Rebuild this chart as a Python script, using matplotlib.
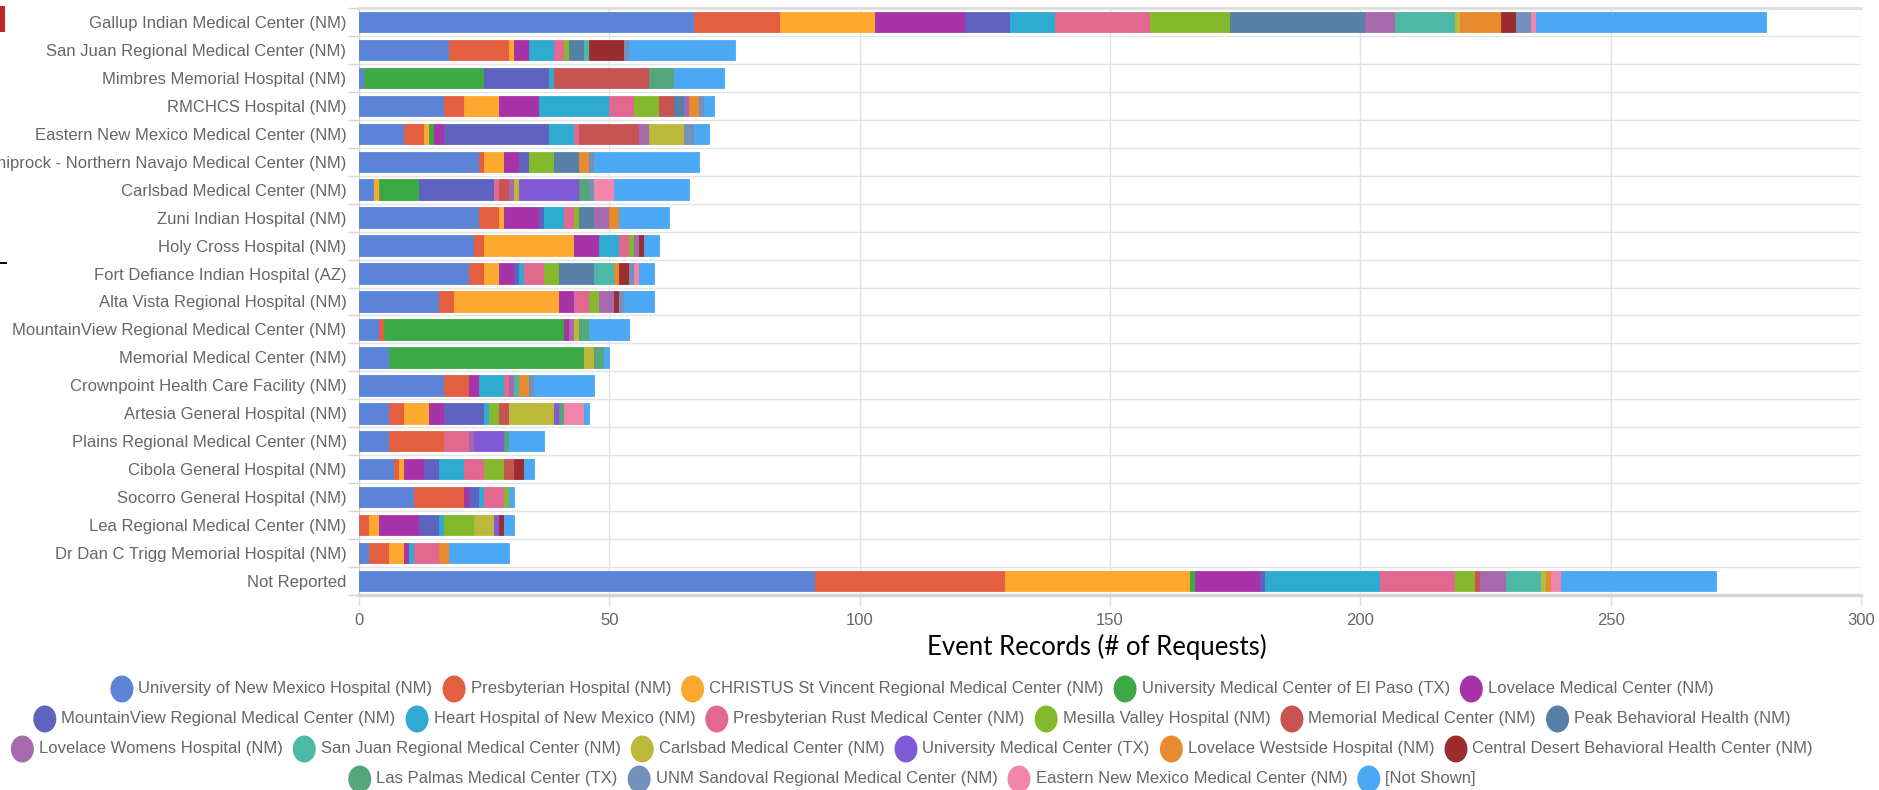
import numpy as np
import matplotlib
matplotlib.use("Agg")
import matplotlib.pyplot as plt
from matplotlib.patches import Ellipse, Rectangle

# categories, top to bottom
hospitals = [
    "Gallup Indian Medical Center (NM)", "San Juan Regional Medical Center (NM)",
    "Mimbres Memorial Hospital (NM)", "RMCHCS Hospital (NM)",
    "Eastern New Mexico Medical Center (NM)", "Shiprock - Northern Navajo Medical Center (NM)",
    "Carlsbad Medical Center (NM)", "Zuni Indian Hospital (NM)", "Holy Cross Hospital (NM)",
    "Fort Defiance Indian Hospital (AZ)", "Alta Vista Regional Hospital (NM)",
    "MountainView Regional Medical Center (NM)", "Memorial Medical Center (NM)",
    "Crownpoint Health Care Facility (NM)", "Artesia General Hospital (NM)",
    "Plains Regional Medical Center (NM)", "Cibola General Hospital (NM)",
    "Socorro General Hospital (NM)", "Lea Regional Medical Center (NM)",
    "Dr Dan C Trigg Memorial Hospital (NM)", "Not Reported",
]

# one list per destination (series), values follow the hospitals order
unm = [67, 18, 1, 17, 9, 24, 3, 24, 23, 22, 16, 4, 6, 17, 6, 6, 7, 11, 0, 2, 91]
presbyterian = [17, 12, 0, 4, 4, 1, 0, 4, 2, 3, 3, 1, 0, 5, 3, 11, 1, 10, 2, 4, 38]
christus = [19, 1, 0, 7, 1, 4, 1, 1, 18, 3, 21, 0, 0, 0, 5, 0, 1, 0, 2, 3, 37]
umc_el_paso = [0, 0, 24, 0, 1, 0, 8, 0, 0, 0, 0, 36, 39, 0, 0, 0, 0, 0, 0, 0, 1]
lovelace = [18, 3, 0, 8, 2, 3, 0, 7, 5, 3, 3, 1, 0, 2, 3, 0, 4, 1, 8, 1, 13]
mountainview = [9, 0, 13, 0, 21, 2, 15, 1, 0, 1, 0, 0, 0, 0, 8, 0, 3, 2, 4, 0, 1]
heart = [9, 5, 1, 14, 5, 0, 0, 4, 4, 1, 0, 0, 0, 5, 1, 0, 5, 1, 1, 1, 23]
pres_rust = [19, 2, 0, 5, 1, 0, 1, 2, 2, 4, 3, 0, 0, 1, 0, 5, 4, 4, 0, 5, 15]
mesilla = [16, 1, 0, 5, 0, 5, 0, 1, 1, 3, 2, 0, 0, 0, 2, 0, 4, 1, 6, 0, 4]
memorial = [0, 0, 19, 3, 12, 0, 2, 0, 0, 0, 0, 0, 0, 0, 2, 0, 2, 0, 0, 0, 1]
peak = [27, 3, 0, 2, 0, 5, 0, 3, 0, 7, 0, 0, 0, 0, 0, 0, 0, 0, 0, 0, 0]
lovelace_womens = [6, 0, 0, 1, 2, 0, 1, 3, 1, 0, 3, 1, 0, 1, 0, 1, 0, 0, 0, 0, 5]
san_juan = [12, 1, 0, 0, 0, 0, 0, 0, 0, 4, 0, 0, 0, 1, 0, 0, 0, 0, 0, 0, 7]
carlsbad = [1, 0, 0, 0, 7, 0, 1, 0, 0, 0, 0, 1, 2, 0, 9, 0, 0, 0, 4, 0, 1]
umc_tx = [0, 0, 0, 0, 0, 0, 12, 0, 0, 0, 0, 0, 0, 0, 1, 6, 0, 0, 1, 0, 0]
westside = [8, 0, 0, 2, 0, 2, 0, 2, 0, 1, 0, 0, 0, 2, 0, 0, 0, 0, 0, 2, 1]
central_desert = [3, 7, 0, 0, 0, 0, 0, 0, 1, 2, 1, 0, 0, 0, 0, 0, 2, 0, 1, 0, 0]
las_palmas = [0, 0, 5, 0, 0, 0, 2, 0, 0, 0, 0, 2, 2, 0, 1, 1, 0, 0, 0, 0, 0]
sandoval = [3, 1, 0, 1, 2, 1, 1, 0, 0, 1, 1, 0, 0, 1, 0, 0, 0, 0, 0, 0, 0]
eastern_nm = [1, 0, 0, 0, 0, 0, 4, 0, 0, 1, 0, 0, 0, 0, 4, 0, 0, 0, 0, 0, 2]
not_shown = [46, 21, 10, 2, 3, 21, 15, 10, 3, 3, 6, 8, 1, 12, 1, 7, 2, 1, 2, 12, 31]

series_names = [
    "University of New Mexico Hospital (NM)", "Presbyterian Hospital (NM)",
    "CHRISTUS St Vincent Regional Medical Center (NM)", "University Medical Center of El Paso (TX)",
    "Lovelace Medical Center (NM)", "MountainView Regional Medical Center (NM)",
    "Heart Hospital of New Mexico (NM)", "Presbyterian Rust Medical Center (NM)",
    "Mesilla Valley Hospital (NM)", "Memorial Medical Center (NM)", "Peak Behavioral Health (NM)",
    "Lovelace Womens Hospital (NM)", "San Juan Regional Medical Center (NM)",
    "Carlsbad Medical Center (NM)", "University Medical Center (TX)",
    "Lovelace Westside Hospital (NM)", "Central Desert Behavioral Health Center (NM)",
    "Las Palmas Medical Center (TX)", "UNM Sandoval Regional Medical Center (NM)",
    "Eastern New Mexico Medical Center (NM)", "[Not Shown]",
]
series_values = [unm, presbyterian, christus, umc_el_paso, lovelace, mountainview, heart,
                 pres_rust, mesilla, memorial, peak, lovelace_womens, san_juan, carlsbad,
                 umc_tx, westside, central_desert, las_palmas, sandoval, eastern_nm, not_shown]
colors = ["#5b84d6", "#e35f3f", "#fda92f", "#3ca846", "#a833a8", "#5e63bf", "#2fabd2",
          "#e2688f", "#85b92d", "#c85353", "#5680a8", "#a868ad", "#4bb9a5", "#bcb93a",
          "#8159d6", "#e88b2e", "#9b2d30", "#54a67b", "#7391bb", "#f185ab", "#4aa8f4"]

legend_rows = [[0, 1, 2, 3, 4], [5, 6, 7, 8, 9, 10], [11, 12, 13, 14, 15, 16], [17, 18, 19, 20]]

W, H = 1879, 790
plt.rcParams['font.family'] = ['Liberation Sans', 'DejaVu Sans']
fig = plt.figure(figsize=(W / 100, H / 100), dpi=100)
ax = fig.add_axes([359 / W, 1 - 595 / H, (1861 - 359) / W, (595 - 8) / H])

y = np.arange(len(hospitals))
left = np.zeros(len(hospitals))
for vals, c in zip(series_values, colors):
    vals = np.array(vals, dtype=float)
    ax.barh(y, vals, left=left, height=0.73, color=c, edgecolor=c, linewidth=0.6, zorder=3)
    left += vals

ax.set_ylim(len(hospitals) - 0.5, -0.5)
ax.set_xlim(0, 300)
ax.set_xticks(np.arange(0, 301, 50))
ax.set_yticks(y)
ax.set_yticklabels(hospitals)
ax.set_yticks(np.arange(-0.5, len(hospitals)), minor=True)
ax.tick_params(axis='y', which='major', length=0, pad=9, labelsize=12, labelcolor='#666666')
ax.tick_params(axis='y', which='minor', length=8, color='#d5d5d5', width=1)
ax.tick_params(axis='x', length=8, color='#e0e0e0', width=1, pad=5, labelsize=12,
               labelcolor='#666666')
ax.grid(axis='x', color='#e3e3e3', linewidth=1, zorder=0)
ax.grid(axis='y', which='minor', color='#e3e3e3', linewidth=1, zorder=0)
ax.spines['right'].set_visible(False)
ax.spines['top'].set_color('#dddddd')
ax.spines['top'].set_linewidth(2)
ax.spines['left'].set_color('#cccccc')
ax.spines['bottom'].set_color('#d5d5d5')
ax.spines['bottom'].set_linewidth(2.5)

fig.text(1097 / W, 1 - 647 / H, "Event Records (# of Requests)", ha='center', va='center',
         fontsize=18.5, family=['Lato', 'DejaVu Sans'], color='black')

# legend, each row centred on its own
renderer = fig.canvas.get_renderer()
row_y = [689, 719, 749, 779]
cx_center = 912
dot_w, gap_dot, gap_item = 23, 5, 10
for row, yy in zip(legend_rows, row_y):
    texts = []
    for i in row:
        t = fig.text(0, 1 - yy / H, series_names[i], ha='left', va='center', fontsize=12,
                     color='#666666')
        texts.append(t)
    widths = [t.get_window_extent(renderer).width for t in texts]
    total = sum(dot_w + gap_dot + w for w in widths) + gap_item * (len(row) - 1)
    x = cx_center - total / 2
    for i, t, w in zip(row, texts, widths):
        fig.patches.append(Ellipse(((x + dot_w / 2) / W, 1 - yy / H), dot_w / W, 27 / H,
                                   transform=fig.transFigure, facecolor=colors[i],
                                   edgecolor='none'))
        t.set_x((x + dot_w + gap_dot) / W)
        x += dot_w + gap_dot + w + gap_item

# bits of the screenshot edge
fig.patches.append(Rectangle((0, 1 - 32 / H), 5 / W, 26 / H, transform=fig.transFigure,
                             facecolor='#c0262d', edgecolor='none'))
fig.patches.append(Rectangle((0, 1 - 264 / H), 7 / W, 2 / H, transform=fig.transFigure,
                             facecolor='black', edgecolor='none'))

fig.savefig("out.png", dpi=100)
